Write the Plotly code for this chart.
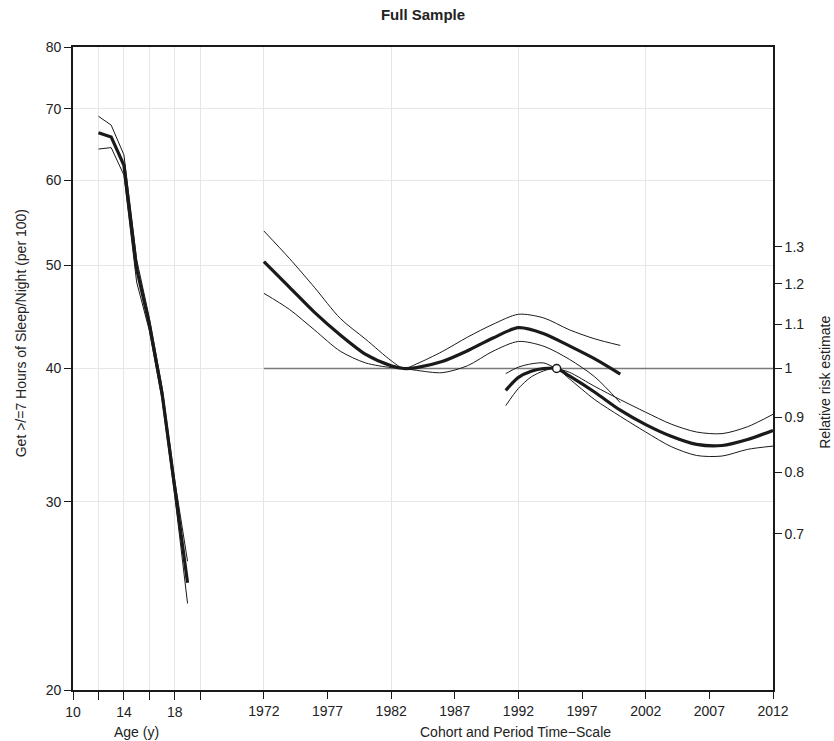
import plotly.graph_objects as go
import numpy as np

# ---------------- data ----------------
ages = [12, 13, 14, 15, 16, 17, 18, 19]
age_mid = [66.5, 65.9, 62.0, 49.6, 44.0, 37.9, 30.9, 25.2]
age_hi = [68.9, 67.6, 63.4, 50.6, 44.6, 38.4, 31.4, 26.4]
age_lo = [64.2, 64.4, 60.7, 48.2, 43.4, 37.4, 30.4, 24.1]

cohort_years = [1972, 1974, 1976, 1978, 1980, 1982, 1983, 1984, 1986, 1988, 1990, 1992, 1994, 1996, 1998, 2000]
cohort_mid = [1.259, 1.192, 1.128, 1.075, 1.031, 1.006, 1.000, 1.002, 1.015, 1.039, 1.068, 1.092, 1.078, 1.050, 1.021, 0.988]
cohort_hi = [1.345, 1.268, 1.190, 1.114, 1.065, 1.017, 1.000, 1.010, 1.037, 1.070, 1.100, 1.124, 1.115, 1.087, 1.066, 1.051]
cohort_lo = [1.176, 1.136, 1.086, 1.038, 1.012, 1.002, 1.000, 0.996, 0.991, 1.006, 1.038, 1.060, 1.049, 1.020, 0.982, 0.929]

period_years = [1991, 1992, 1993, 1994, 1995, 1996, 1998, 2000, 2002, 2004, 2006, 2008, 2010, 2012]
period_mid = [0.954, 0.981, 0.994, 1.000, 1.000, 0.984, 0.950, 0.914, 0.886, 0.864, 0.849, 0.847, 0.858, 0.875]
period_hi = [0.989, 1.003, 1.010, 1.012, 1.000, 0.992, 0.962, 0.935, 0.910, 0.887, 0.872, 0.869, 0.882, 0.906]
period_lo = [0.923, 0.958, 0.982, 0.995, 1.000, 0.978, 0.935, 0.902, 0.872, 0.845, 0.829, 0.828, 0.840, 0.846]

ref_period = 1995
ref_rr = 1.0

age_ticks = [10, 12, 14, 16, 18, 20]
age_ticktext = ["10", "", "14", "", "18", ""]
year_ticks = [1972, 1977, 1982, 1987, 1992, 1997, 2002, 2007, 2012]
year_grid = [1972, 1982, 1992, 2002, 2012]
left_ticks = [20, 30, 40, 50, 60, 70, 80]
right_ticks = [0.7, 0.8, 0.9, 1.0, 1.1, 1.2, 1.3]
right_ticktext = ["0.7", "0.8", "0.9", "1", "1.1", "1.2", "1.3"]

# ---------------- styles ----------------
INK = "#1a1a1a"
GRID = "#e6e6e6"
FONT = "Liberation Sans, Arial, sans-serif"
THICK = 3.2
THIN = 1.0

fig = go.Figure()

# age effect
for vals, w in [(age_hi, THIN), (age_lo, THIN), (age_mid, THICK)]:
    fig.add_trace(go.Scatter(x=ages, y=vals, mode="lines", line=dict(color=INK, width=w),
                             xaxis="x", yaxis="y", showlegend=False, hoverinfo="skip"))

# invisible trace to create year grid axis
fig.add_trace(go.Scatter(x=[year_grid[0]], y=[left_ticks[3]], mode="none", xaxis="x3", yaxis="y",
                         showlegend=False, hoverinfo="skip"))

# reference line RR = 1
fig.add_trace(go.Scatter(x=[year_ticks[0], year_ticks[-1]], y=[ref_rr, ref_rr], mode="lines",
                         line=dict(color="#7a7a7a", width=1.3), xaxis="x2", yaxis="y2",
                         showlegend=False, hoverinfo="skip"))

# cohort & period effects
for yrs, vals, w in [(cohort_years, cohort_hi, THIN), (cohort_years, cohort_lo, THIN), (cohort_years, cohort_mid, THICK),
                     (period_years, period_hi, THIN), (period_years, period_lo, THIN), (period_years, period_mid, THICK)]:
    fig.add_trace(go.Scatter(x=yrs, y=vals, mode="lines",
                             line=dict(color=INK, width=w, shape="spline", smoothing=0.8),
                             xaxis="x2", yaxis="y2", showlegend=False, hoverinfo="skip"))

# reference period marker
fig.add_trace(go.Scatter(x=[ref_period], y=[ref_rr], mode="markers",
                         marker=dict(symbol="circle", size=8, color="white", line=dict(color=INK, width=1.5)),
                         xaxis="x2", yaxis="y2", showlegend=False, hoverinfo="skip"))

tickfont = dict(family=FONT, size=14, color="#222222")
x_lo_age = 10
x_hi_age = 65
year_offset = 1947  # 1972 sits at age-unit 25

fig.update_layout(
    width=834, height=741,
    margin=dict(l=73, r=61, t=47, b=51),
    paper_bgcolor="white", plot_bgcolor="white",
    title=dict(text="<b>Full Sample</b>", x=0.5, xref="paper", yref="container", y=0.98, yanchor="middle",
               font=dict(family=FONT, size=15, color="#222222")),
    xaxis=dict(range=[x_lo_age, x_hi_age], tickmode="array", tickvals=age_ticks, ticktext=age_ticktext,
               showgrid=True, gridcolor=GRID, gridwidth=1, zeroline=False,
               ticks="outside", ticklen=8, tickwidth=1.2, tickcolor=INK,
               showline=True, linecolor=INK, linewidth=1.6, mirror=True, tickfont=tickfont),
    xaxis2=dict(range=[x_lo_age + year_offset, x_hi_age + year_offset], overlaying="x", anchor="y", side="bottom",
                tickmode="array", tickvals=year_ticks, showgrid=False, zeroline=False,
                ticks="outside", ticklen=8, tickwidth=1.2, tickcolor=INK, showline=False, tickfont=tickfont),
    xaxis3=dict(range=[x_lo_age + year_offset, x_hi_age + year_offset], overlaying="x", anchor="y", side="bottom",
                tickmode="array", tickvals=year_grid, showgrid=True, gridcolor=GRID, gridwidth=1,
                showticklabels=False, ticks="", zeroline=False, showline=False),
    yaxis=dict(type="log", range=[np.log10(20), np.log10(80)], tickmode="array", tickvals=left_ticks,
               showgrid=True, gridcolor=GRID, gridwidth=1, zeroline=False,
               ticks="outside", ticklen=7, tickwidth=1.2, tickcolor=INK,
               showline=True, linecolor=INK, linewidth=1.6, mirror=True, tickfont=tickfont),
    yaxis2=dict(type="log", range=[np.log10(0.5), np.log10(2.0)], overlaying="y", side="right", anchor="x",
                tickmode="array", tickvals=right_ticks, ticktext=right_ticktext, showgrid=False, zeroline=False,
                ticks="outside", ticklen=7, tickwidth=1.2, tickcolor=INK,
                showline=True, linecolor=INK, linewidth=1.6, tickfont=tickfont),
    annotations=[
        dict(text="Age (y)", xref="x", x=15, yref="paper", y=-0.066, xanchor="center", yanchor="middle",
             showarrow=False, font=dict(family=FONT, size=14, color="#222222")),
        dict(text="Cohort and Period Time\u2212Scale", xref="x2", x=1991.8, yref="paper", y=-0.066,
             xanchor="center", yanchor="middle", showarrow=False, font=dict(family=FONT, size=14, color="#222222")),
        dict(text="Get >/=7 Hours of Sleep/Night (per 100)", xref="paper", x=-0.075, yref="paper", y=0.554,
             xanchor="center", yanchor="middle", textangle=-90, showarrow=False,
             font=dict(family=FONT, size=14, color="#222222")),
        dict(text="Relative risk estimate", xref="paper", x=1.074, yref="paper", y=0.479,
             xanchor="center", yanchor="middle", textangle=-90, showarrow=False,
             font=dict(family=FONT, size=14, color="#222222")),
    ],
)

# remove the default 8px page margin so the figure fills the window exactly
fig.write_html("out.html", config={"displayModeBar": False},
               post_script="document.body.style.margin='0px';document.body.style.overflow='hidden';")
